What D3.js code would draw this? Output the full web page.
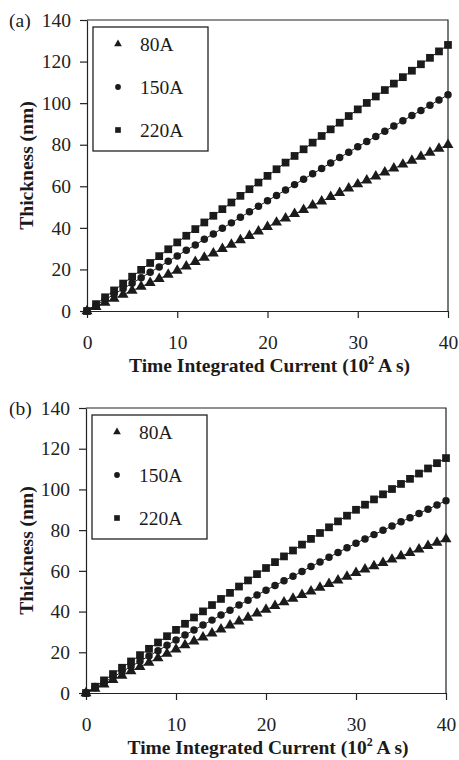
<!DOCTYPE html>
<html lang="en">
<head>
<meta charset="UTF-8">
<script src="https://cdnjs.cloudflare.com/ajax/libs/d3/7.8.5/d3.min.js"></script>
<title>Thickness vs time integrated current</title>
<style>
  body { margin: 0; background: #fff; }
  svg { display: block; font-family: "Liberation Serif", "Times New Roman", serif; }
  .axis path, .axis line { stroke: #222; stroke-width: 1.2; }
</style>
</head>
<body>
<svg width="459" height="760"></svg>
<script>
// current (10^2 A s) sample positions
const xVals = [0,1,2,3,4,5,6,7,8,9,10,11,12,13,14,15,16,17,18,19,20,
               21,22,23,24,25,26,27,28,29,30,31,32,33,34,35,36,37,38,39,40]
const xTicks = [0, 10, 20, 30, 40]
const yTicks = [0, 20, 40, 60, 80, 100, 120, 140]
const seriesNames = ["80A", "150A", "220A"]

// panel (a)
const a80 = [0,2,4,6,7.9,9.8,11.7,13.6,15.5,17.5,19.5,21.5,23.6,25.7,27.8,29.9,32,34.1,36.2,38.3,40.5,
             42.6,44.6,46.7,48.7,50.8,52.8,54.9,56.9,59,61,62.9,64.8,66.7,68.6,70.5,72.4,74.3,76.2,78.1,80]
const a150 = [0,2.7,5.4,8,10.7,13.3,16,18.6,21.2,23.9,26.5,29.2,31.8,34.5,37.1,39.8,42.4,45.1,47.7,50.4,53,
              55.6,58.2,60.8,63.4,66,68.6,71.2,73.8,76.4,79,81.5,84,86.5,89,91.5,94,96.5,99,101.5,104]
const a220 = [0,3.3,6.6,9.9,13.2,16.5,19.8,23.1,26.4,29.7,33,36.2,39.4,42.6,45.8,49,52.2,55.4,58.6,61.8,65,
              68.2,71.4,74.6,77.8,81,84.2,87.4,90.6,93.8,97,100.1,103.2,106.3,109.4,112.5,115.6,118.7,121.8,124.9,128]

// panel (b)
const b80 = [0,2.2,4.3,6.5,8.6,10.8,12.9,15,17.2,19.3,21.5,23.5,25.4,27.4,29.3,31.3,33.2,35.2,37.1,39.1,41,
             42.8,44.6,46.4,48.2,50,51.8,53.6,55.4,57.2,59,60.7,62.3,64,65.6,67.3,68.9,70.6,72.3,73.9,75.6]
const b150 = [0,2.6,5.2,7.8,10.4,13,15.6,18.2,20.8,23.4,26,28.5,30.9,33.4,35.8,38.3,40.7,43.2,45.6,48.1,50.5,
              52.8,55.1,57.4,59.7,62.1,64.4,66.7,69,71.3,73.6,75.7,77.8,79.9,82,84.1,86.1,88.2,90.3,92.4,94.5]
const b220 = [0,3.1,6.2,9.3,12.4,15.5,18.6,21.7,24.8,27.9,31,34,37.1,40.1,43.2,46.2,49.2,52.3,55.3,58.4,61.4,
              64.3,67.1,70,72.9,75.7,78.6,81.4,84.3,87.1,90,92.5,95.1,97.6,100.2,102.7,105.2,107.8,110.3,112.9,115.4]

const svg = d3.select("svg")
const ink = "#1b1b1b"
const serif = '"Liberation Serif", "Times New Roman", serif'
const symbols = [d3.symbolTriangle, d3.symbolCircle, d3.symbolSquare]
const markSize = [52, 44, 60]

const styleTicks = g => {
    g.attr("font-family", null).attr("font-size", null)
    g.selectAll("text").style("font-family", serif).style("font-size", "19.5px").attr("fill", "#222")
}

const drawPanel = (tag, series, box) => {
    const x = d3.scaleLinear().domain([0, 40]).range([box.left, box.right])
    const y = d3.scaleLinear().domain([0, 140]).range([box.bottom, box.top])

    // frame top + right
    svg.append("path")
        .attr("d", `M${box.left},${box.top}H${box.right}V${box.bottom}`)
        .attr("fill", "none").attr("stroke", "#222").attr("stroke-width", 1.2)

    svg.append("g").attr("class", "axis")
        .attr("transform", `translate(0,${box.bottom})`)
        .call(d3.axisBottom(x).tickValues(xTicks).tickSize(7).tickSizeOuter(0).tickPadding(17))
        .call(styleTicks)
    svg.append("g").attr("class", "axis")
        .attr("transform", `translate(${box.left},0)`)
        .call(d3.axisLeft(y).tickValues(yTicks).tickSize(7).tickSizeOuter(0).tickPadding(9))
        .call(styleTicks)
    svg.selectAll(".axis .domain").attr("stroke-width", 1.3)

    const line = d3.line().x((d, i) => x(xVals[i])).y(d => y(d))
    series.forEach((vals, k) => {
        svg.append("path").attr("d", line(vals))
            .attr("fill", "none").attr("stroke", ink).attr("stroke-width", 1)
        svg.append("g").selectAll("path").data(vals).join("path")
            .attr("transform", (d, i) => `translate(${x(xVals[i])},${y(d)})`)
            .attr("d", d3.symbol().type(symbols[k]).size(markSize[k]))
            .attr("fill", ink)
    })

    // legend
    const lg = svg.append("g").attr("transform", `translate(${box.left + 6},${box.top + 7})`)
    lg.append("rect").attr("width", 115).attr("height", 124)
        .attr("fill", "#fff").attr("stroke", "#222").attr("stroke-width", 1.3)
    seriesNames.forEach((name, k) => {
        const cy = 17 + k * 43
        lg.append("path").attr("transform", `translate(25,${cy})`)
            .attr("d", d3.symbol().type(symbols[k]).size(k === 2 ? 32 : 26))
            .attr("fill", ink)
        lg.append("text").attr("x", 47).attr("y", cy + 7)
            .attr("font-size", "19.5px").attr("fill", ink).text(name)
    })

    // panel tag
    svg.append("text").attr("x", 9).attr("y", box.top + 7)
        .attr("font-size", "19.5px").attr("fill", ink).text(tag)

    // axis titles
    const xt = svg.append("text").attr("x", (box.left + box.right) / 2 + 2).attr("y", box.bottom + 61)
        .attr("text-anchor", "middle").attr("font-weight", "bold").attr("font-size", "19.5px").attr("fill", ink)
    xt.append("tspan").text("Time Integrated Current (10")
    xt.append("tspan").attr("font-size", "12px").attr("dy", -8).text("2")
    xt.append("tspan").attr("dy", 8).text(" A s)")

    svg.append("text")
        .attr("transform", `translate(33,${(box.top + box.bottom) / 2}) rotate(-90)`)
        .attr("text-anchor", "middle").attr("font-weight", "bold").attr("font-size", "19.5px")
        .attr("fill", ink).text("Thickness (nm)")
}

drawPanel("(a)", [a80, a150, a220], {left: 87, right: 448, top: 20, bottom: 311})
drawPanel("(b)", [b80, b150, b220], {left: 86, right: 446, top: 408, bottom: 693})
</script>
</body>
</html>
